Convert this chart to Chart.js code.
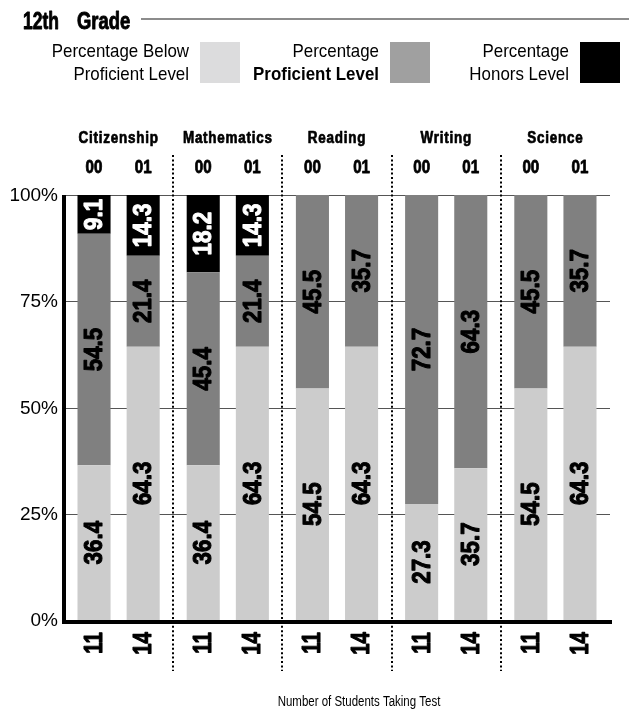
<!DOCTYPE html>
<html>
<head>
<meta charset="utf-8">
<script src="https://cdn.jsdelivr.net/npm/chart.js"></script>
<style>
  body { margin: 0; background: #fff; }
  canvas { display: block; }
</style>
</head>
<body>
<canvas id="myChart" width="629" height="709"></canvas>
<script>
// 데이터
const subjects = ["Citizenship", "Mathematics", "Reading", "Writing", "Science"];
const years = ["00", "01"];

const below00 = [36.4, 36.4, 54.5, 27.3, 54.5];
const prof00 = [54.5, 45.4, 45.5, 72.7, 45.5];
const honors00 = [9.1, 18.2, 0, 0, 0];

const below01 = [64.3, 64.3, 64.3, 35.7, 64.3];
const prof01 = [21.4, 21.4, 35.7, 64.3, 35.7];
const honors01 = [14.3, 14.3, 0, 0, 0];

const students00 = [11, 11, 11, 11, 11];
const students01 = [14, 14, 14, 14, 14];

const yTicks = [0, 25, 50, 75, 100];
const yTickLabels = ["0%", "25%", "50%", "75%", "100%"];

// 좁은 글꼴이 없어서 Liberation Sans 를 가로로 줄여서 씀
const FONT = "'Liberation Sans', Arial, sans-serif";
const SQUEEZE = 0.82;

const LIGHT = "#cccccc";
const MID = "#808080";
const DARK = "#000000";

// heavy 는 굵게 보이도록 테두리를 한번 더 그림
const narrowText = (ctx, text, x, y, font, align, rot, sx, heavy) => {
    ctx.save();
    ctx.translate(x, y);
    if (rot) ctx.rotate(rot);
    ctx.scale(sx || SQUEEZE, 1);
    ctx.font = font;
    ctx.textAlign = align;
    ctx.fillText(text, 0, 0);
    if (heavy) {
        ctx.strokeStyle = ctx.fillStyle;
        ctx.lineWidth = heavy;
        ctx.lineJoin = "round";
        ctx.strokeText(text, 0, 0);
    }
    ctx.restore();
};

// 그리기 플러그인
const extras = {
    id: "extras",
    beforeDatasetsDraw(chart) {
        const ctx = chart.ctx;
        const area = chart.chartArea;
        const y = chart.scales.y;
        ctx.save();
        ctx.strokeStyle = "#555";
        ctx.lineWidth = 1;
        for (let i = 0; i < yTicks.length; i++) {
            const py = Math.round(y.getPixelForValue(yTicks[i])) + 0.5;
            ctx.beginPath();
            ctx.moveTo(area.left, py);
            ctx.lineTo(area.right, py);
            ctx.stroke();
        }
        ctx.restore();
    },
    afterDatasetsDraw(chart) {
        const ctx = chart.ctx;
        const area = chart.chartArea;
        const x = chart.scales.x;
        const y = chart.scales.y;
        ctx.save();

        // 막대 안의 값
        ctx.textBaseline = "middle";
        chart.data.datasets.forEach((ds, d) => {
            const meta = chart.getDatasetMeta(d);
            meta.data.forEach((bar, i) => {
                const v = ds.data[i];
                if (!v) return;
                const cy = (bar.y + bar.base) / 2;
                ctx.fillStyle = ds.backgroundColor === DARK ? "#fff" : "#000";
                narrowText(ctx, v.toFixed(1), bar.x + 1, cy, "bold 26px " + FONT, "center", -Math.PI / 2, 0.86, 1.1);
            });
        });

        // 축
        ctx.fillStyle = "#000";
        ctx.fillRect(62, area.top, 4, area.bottom - area.top + 4);
        ctx.fillRect(62, area.bottom, area.right - 62 + 2, 4);

        // 점선 구분선
        ctx.strokeStyle = "#000";
        ctx.lineWidth = 2;
        ctx.setLineDash([2, 2.4]);
        for (let i = 0; i < subjects.length - 1; i++) {
            const sx = Math.round((x.getPixelForValue(i) + x.getPixelForValue(i + 1)) / 2);
            ctx.beginPath();
            ctx.moveTo(sx, 155);
            ctx.lineTo(sx, 671);
            ctx.stroke();
        }
        ctx.setLineDash([]);

        // 과목 / 연도 / 학생수
        const m0 = chart.getDatasetMeta(0);
        const m1 = chart.getDatasetMeta(3);
        ctx.fillStyle = "#000";
        ctx.textBaseline = "alphabetic";
        for (let i = 0; i < subjects.length; i++) {
            ctx.letterSpacing = "0.9px";
            narrowText(ctx, subjects[i], x.getPixelForValue(i), 143, "bold 16px " + FONT, "center", 0, 0.84, 0.7);
            ctx.letterSpacing = "0px";
            narrowText(ctx, years[0], m0.data[i].x, 173, "bold 18px " + FONT, "center", 0, 0.84, 0.8);
            narrowText(ctx, years[1], m1.data[i].x, 173, "bold 18px " + FONT, "center", 0, 0.84, 0.8);

            ctx.textBaseline = "middle";
            narrowText(ctx, String(students00[i]), m0.data[i].x + 1, 632, "bold 25px " + FONT, "right", -Math.PI / 2, 0.82, 1.1);
            narrowText(ctx, String(students01[i]), m1.data[i].x + 1, 632, "bold 25px " + FONT, "right", -Math.PI / 2, 0.82, 1.1);
            ctx.textBaseline = "alphabetic";
        }

        // y 눈금 글자
        ctx.font = "19px " + FONT;
        ctx.textAlign = "right";
        ctx.textBaseline = "middle";
        for (let i = 0; i < yTicks.length; i++) {
            ctx.fillText(yTickLabels[i], 58, y.getPixelForValue(yTicks[i]) + 1);
        }

        // 제목
        ctx.textBaseline = "alphabetic";
        narrowText(ctx, "12th", 23, 29, "bold 23px " + FONT, "left", 0, 0.76, 0.9);
        narrowText(ctx, "Grade", 77, 29, "bold 23px " + FONT, "left", 0, 0.8, 0.9);
        ctx.strokeStyle = "#666";
        ctx.lineWidth = 1.5;
        ctx.beginPath();
        ctx.moveTo(141, 19);
        ctx.lineTo(629, 19);
        ctx.stroke();

        // 범례
        const legend = [
            { l1: "Percentage Below", l2: "Proficient Level", b2: false, right: 189, box: 200, color: "#dcdcdd" },
            { l1: "Percentage", l2: "Proficient Level", b2: true, right: 379, box: 390, color: "#a0a0a0" },
            { l1: "Percentage", l2: "Honors Level", b2: false, right: 569, box: 580, color: "#000" }
        ];
        legend.forEach(g => {
            ctx.fillStyle = g.color;
            ctx.fillRect(g.box, 42, 40, 41);
            ctx.fillStyle = "#000";
            narrowText(ctx, g.l1, g.right, 57, "19px " + FONT, "right", 0, 0.89);
            narrowText(ctx, g.l2, g.right, 80, (g.b2 ? "bold " : "") + "19px " + FONT, "right", 0, 0.89);
        });

        // x 제목
        narrowText(ctx, "Number of Students Taking Test", 359, 706, "14px " + FONT, "center");

        ctx.restore();
    }
};

const ctx = document.getElementById("myChart");

const bar = (data, color, stack) => ({
    data: data,
    backgroundColor: color,
    stack: stack,
    borderWidth: 0,
    categoryPercentage: 0.9,
    barPercentage: 0.673
});

new Chart(ctx, {
    type: "bar",
    data: {
        labels: subjects,
        datasets: [
            bar(below00, LIGHT, "s00"),
            bar(prof00, MID, "s00"),
            bar(honors00, DARK, "s00"),
            bar(below01, LIGHT, "s01"),
            bar(prof01, MID, "s01"),
            bar(honors01, DARK, "s01")
        ]
    },
    options: {
        responsive: false,
        animation: false,
        devicePixelRatio: 1,
        layout: { padding: { left: 64, right: 19, top: 195, bottom: 89 } },
        plugins: { legend: { display: false }, tooltip: { enabled: false } },
        scales: {
            x: { stacked: true, display: false },
            y: { stacked: true, display: false, min: 0, max: 100 }
        }
    },
    plugins: [extras]
});
</script>
</body>
</html>
